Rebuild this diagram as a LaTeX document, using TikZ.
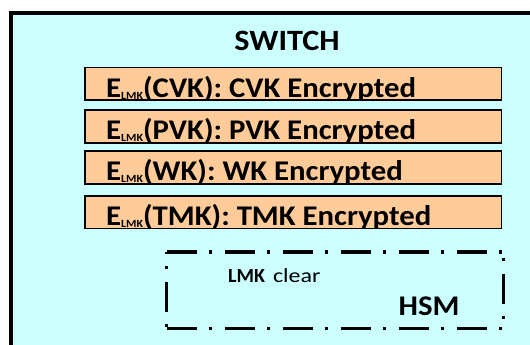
\documentclass[tikz,border=0pt]{standalone}
\usepackage{fontspec}
\usepackage{graphicx}
\setmainfont{Carlito}
\definecolor{switchcyan}{HTML}{CCFFFF}
\definecolor{keypeach}{HTML}{FFCC99}
% subscript LMK of the encryption operator
\newcommand{\lmksub}{\raisebox{-2.4pt}{\fontsize{11}{11}\selectfont LMK}}
% labels are set slightly wide
\newcommand{\widetext}[1]{\scalebox{1.08}[1]{#1}}
\tikzset{
  keybox/.style={fill=keypeach},
  keyedge/.style={draw=black, line width=1.6pt},
  keytext/.style={anchor=base west, inner sep=0pt, font=\bfseries\fontsize{28.5}{28.5}\selectfont},
  hsmedge/.style={draw=black, line width=3.5pt, dash pattern=on 30pt off 12pt on 3pt off 13pt},
}
\begin{document}
\begin{tikzpicture}[x=1pt,y=-1pt]
  \useasboundingbox (0,0) rectangle (530,345);
  \clip (0,0) rectangle (530,345);
  \fill[white] (0,0) rectangle (530,345);

  % outer SWITCH box, running past the right and bottom edges
  \draw[fill=switchcyan, line width=4pt] (11.3,13) rectangle (560,370);
  \node[anchor=base, inner sep=0pt, font=\bfseries\fontsize{29.5}{29.5}\selectfont] (switch) at (287,50.7) {\scalebox{1.09}[1]{SWITCH}};

  % encrypted key boxes: fill, clipped label, then border
  \foreach \name/\top/\bot/\base/\txt in {
      cvk/67.5/100/97.3/{E\lmksub(CVK): CVK Encrypted},
      pvk/110/143/139.5/{E\lmksub(PVK): PVK Encrypted},
      wk/151/184/180.5/{E\lmksub(WK): WK Encrypted},
      tmk/196/228.5/225/{E\lmksub(TMK): TMK Encrypted}} {
    \fill[keybox] (84.8,\top) rectangle (501.5,\bot);
    \begin{scope}
      \clip (84.8,\top) rectangle (501.5,\bot);
      \node[keytext] (\name) at (106,\base) {\widetext{\txt}};
    \end{scope}
    \draw[keyedge] (84.8,\top) rectangle (501.5,\bot);
  }

  % HSM boundary
  \draw[hsmedge] (166.5,252) -- (503.5,252);
  \draw[hsmedge] (166.5,328.5) -- (503.5,328.5);
  \draw[hsmedge, dash phase=28pt] (166.5,252) -- (166.5,328.5);
  \draw[hsmedge, dash phase=36pt] (503.5,252) -- (503.5,328.5);

  \node[anchor=base west, inner sep=0pt, font=\fontsize{20}{20}\selectfont] (lmk) at (228,282)
    {\textbf{LMK}\hspace{8pt}\scalebox{1.2}[1]{clear}};
  \node[anchor=base west, inner sep=0pt, font=\bfseries\fontsize{28.5}{28.5}\selectfont] (hsm) at (398.5,315.5) {\widetext{HSM}};
\end{tikzpicture}
\end{document}
